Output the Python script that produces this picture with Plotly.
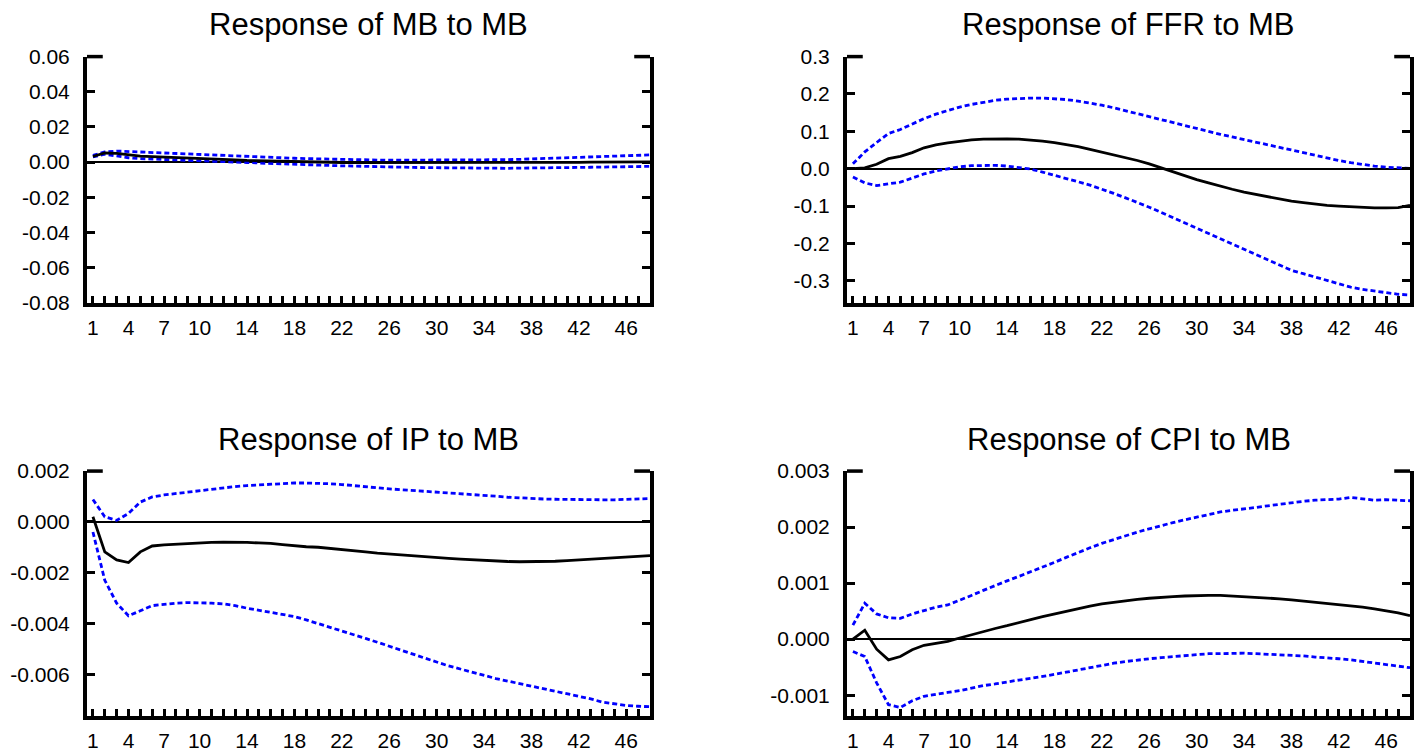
import plotly.graph_objects as go

periods = list(range(1, 49))
x_tick_labels = ["1", "4", "7", "10", "14", "18", "22", "26", "30", "34", "38", "42", "46"]

titles = ["Response of MB to MB", "Response of FFR to MB", "Response of IP to MB", "Response of CPI to MB"]

mb_resp = [0.0032, 0.0052, 0.0050, 0.0040, 0.0034, 0.0031, 0.0029, 0.0027, 0.0025, 0.0022,
           0.0019, 0.0016, 0.0013, 0.0010, 0.0008, 0.0006, 0.0004, 0.0002, 0.0001, 0.0000,
           -0.0001, -0.0002, -0.0003, -0.0003, -0.0004, -0.0004, -0.0005, -0.0005, -0.0005, -0.0005,
           -0.0005, -0.0005, -0.0005, -0.0004, -0.0004, -0.0004, -0.0003, -0.0003, -0.0002, -0.0002,
           -0.0001, -0.0001, 0.0000, 0.0000, 0.0001, 0.0001, 0.0002, 0.0002]
mb_upper = [0.0038, 0.0058, 0.0063, 0.0060, 0.0057, 0.0054, 0.0052, 0.0049, 0.0047, 0.0044,
            0.0041, 0.0038, 0.0035, 0.0032, 0.0029, 0.0026, 0.0024, 0.0022, 0.0020, 0.0018,
            0.0016, 0.0015, 0.0014, 0.0013, 0.0012, 0.0011, 0.0011, 0.0010, 0.0010, 0.0010,
            0.0010, 0.0010, 0.0011, 0.0012, 0.0013, 0.0014, 0.0016, 0.0018, 0.0020, 0.0022,
            0.0024, 0.0026, 0.0029, 0.0031, 0.0034, 0.0036, 0.0039, 0.0041]
mb_lower = [0.0030, 0.0045, 0.0035, 0.0025, 0.0020, 0.0018, 0.0016, 0.0014, 0.0012, 0.0010,
            0.0007, 0.0004, 0.0001, -0.0002, -0.0005, -0.0008, -0.0010, -0.0012, -0.0015, -0.0017,
            -0.0019, -0.0021, -0.0023, -0.0025, -0.0026, -0.0028, -0.0029, -0.0030, -0.0031, -0.0032,
            -0.0033, -0.0034, -0.0035, -0.0035, -0.0035, -0.0035, -0.0034, -0.0034, -0.0033, -0.0032,
            -0.0031, -0.0030, -0.0029, -0.0028, -0.0027, -0.0026, -0.0025, -0.0024]

ffr_resp = [0.0, 0.002, 0.012, 0.027, 0.033, 0.043, 0.056, 0.064, 0.069, 0.074,
            0.077, 0.079, 0.080, 0.080, 0.079, 0.077, 0.074, 0.070, 0.065, 0.059,
            0.052, 0.045, 0.038, 0.030, 0.022, 0.013, 0.002, -0.008, -0.019, -0.029,
            -0.038, -0.047, -0.055, -0.0625, -0.069, -0.076, -0.082, -0.087, -0.091, -0.095,
            -0.098, -0.100, -0.102, -0.104, -0.105, -0.105, -0.104, -0.098]
ffr_upper = [0.013, 0.045, 0.070, 0.094, 0.105, 0.120, 0.134, 0.146, 0.156, 0.165,
             0.172, 0.178, 0.183, 0.186, 0.188, 0.189, 0.189, 0.188, 0.185, 0.181,
             0.176, 0.170, 0.163, 0.155, 0.146, 0.138, 0.131, 0.123, 0.115, 0.107,
             0.100, 0.092, 0.085, 0.078, 0.070, 0.063, 0.056, 0.049, 0.042, 0.035,
             0.028, 0.022, 0.016, 0.011, 0.007, 0.004, 0.002, 0.001]
ffr_lower = [-0.022, -0.038, -0.045, -0.040, -0.036, -0.025, -0.014, -0.006, 0.000, 0.005,
             0.008, 0.009, 0.009, 0.007, 0.004, -0.001, -0.009, -0.017, -0.026, -0.035,
             -0.044, -0.054, -0.066, -0.078, -0.090, -0.103, -0.117, -0.131, -0.146, -0.160,
             -0.174, -0.187, -0.200, -0.214, -0.229, -0.243, -0.258, -0.272, -0.281, -0.290,
             -0.300, -0.310, -0.317, -0.323, -0.328, -0.333, -0.336, -0.338]

ip_resp = [0.0002, -0.00118, -0.0015, -0.0016, -0.00118, -0.00095, -0.00091, -0.00088, -0.00085, -0.00082,
           -0.00081, -0.0008, -0.0008, -0.00081, -0.00083, -0.00085, -0.0009, -0.00095, -0.00098, -0.001,
           -0.00104, -0.00108, -0.00113, -0.00118, -0.00123, -0.00127, -0.0013, -0.00134, -0.00137, -0.0014,
           -0.00144, -0.00147, -0.0015, -0.00153, -0.00155, -0.00156, -0.00157, -0.00157, -0.00157, -0.00155,
           -0.00153, -0.0015, -0.00148, -0.00146, -0.00143, -0.0014, -0.00137, -0.00133]
ip_upper = [0.00088, 0.0002, 0.00006, 0.00033, 0.00078, 0.00098, 0.00106, 0.00112, 0.00118, 0.00124,
            0.00129, 0.00134, 0.00139, 0.00143, 0.00146, 0.00149, 0.00152, 0.00153, 0.00153, 0.00152,
            0.0015, 0.00147, 0.00142, 0.00138, 0.00134, 0.0013, 0.00127, 0.00124, 0.00121, 0.00118,
            0.00115, 0.00111, 0.00108, 0.00105, 0.00101, 0.00097, 0.00094, 0.00092, 0.0009, 0.00089,
            0.00088, 0.00087, 0.00087, 0.00087, 0.00087, 0.00088, 0.0009, 0.00092]
ip_lower = [-0.0004, -0.0023, -0.0032, -0.0037, -0.0035, -0.0033, -0.00325, -0.0032, -0.00318, -0.00318,
            -0.0032, -0.00323, -0.0033, -0.0034, -0.00348, -0.00356, -0.00364, -0.00373, -0.00386, -0.004,
            -0.00415, -0.0043, -0.00444, -0.00459, -0.00474, -0.0049, -0.00505, -0.0052, -0.00536, -0.00552,
            -0.00567, -0.0058, -0.00594, -0.00607, -0.00617, -0.00627, -0.00637, -0.00647, -0.00657, -0.00667,
            -0.00677, -0.00686, -0.00697, -0.0071, -0.00717, -0.00723, -0.00726, -0.00728]

cpi_resp = [0.0, 0.00016, -0.00018, -0.00037, -0.00031, -0.00019, -0.00011, -0.00008, -0.00004, 0.00002,
            0.00008, 0.00013, 0.00019, 0.00024, 0.0003, 0.00035, 0.0004, 0.00045, 0.0005, 0.00055,
            0.00059, 0.00063, 0.00066, 0.00069, 0.00071, 0.00073, 0.00075, 0.00076, 0.00077, 0.00078,
            0.00078, 0.00078, 0.00077, 0.00076, 0.00075, 0.00074, 0.00072, 0.0007, 0.00068, 0.00066,
            0.00064, 0.00062, 0.0006, 0.00057, 0.00054, 0.00051, 0.00047, 0.00042]
cpi_upper = [0.00025, 0.00064, 0.00045, 0.00038, 0.00037, 0.00045, 0.00051, 0.00057, 0.00061, 0.00069,
             0.00078, 0.00087, 0.00096, 0.00104, 0.00112, 0.0012, 0.00128, 0.00137, 0.00146, 0.00155,
             0.00163, 0.00171, 0.00178, 0.00185, 0.00191, 0.00197, 0.00203, 0.00208, 0.00213, 0.00218,
             0.00223, 0.00227, 0.0023, 0.00232, 0.00235, 0.00238, 0.00241, 0.00243, 0.00246, 0.00248,
             0.00249, 0.0025, 0.00253, 0.00251, 0.00248, 0.00249, 0.00248, 0.00247]
cpi_lower = [-0.00022, -0.00031, -0.00078, -0.00117, -0.00122, -0.0011, -0.00102, -0.00098, -0.00095, -0.00092,
             -0.00087, -0.00083, -0.0008, -0.00076, -0.00073, -0.0007, -0.00067, -0.00063, -0.00059, -0.00055,
             -0.0005, -0.00046, -0.00043, -0.0004, -0.00037, -0.00035, -0.00033, -0.00031, -0.00029, -0.00027,
             -0.00026, -0.00026, -0.00025, -0.00025, -0.00026, -0.00027, -0.00027, -0.00028, -0.0003, -0.00032,
             -0.00033, -0.00035, -0.00037, -0.0004, -0.00042, -0.00045, -0.00048, -0.00051]

mb_yticks = [0.06, 0.04, 0.02, 0.0, -0.02, -0.04, -0.06, -0.08]
mb_ylabels = ["0.06", "0.04", "0.02", "0.00", "-0.02", "-0.04", "-0.06", "-0.08"]
ffr_yticks = [0.3, 0.2, 0.1, 0.0, -0.1, -0.2, -0.3]
ffr_ylabels = ["0.3", "0.2", "0.1", "0.0", "-0.1", "-0.2", "-0.3"]
ip_yticks = [0.002, 0.0, -0.002, -0.004, -0.006]
ip_ylabels = ["0.002", "0.000", "-0.002", "-0.004", "-0.006"]
cpi_yticks = [0.003, 0.002, 0.001, 0.0, -0.001]
cpi_ylabels = ["0.003", "0.002", "0.001", "0.000", "-0.001"]

panels = [
    (mb_resp, mb_upper, mb_lower, mb_yticks, mb_ylabels, [-0.08, 0.06]),
    (ffr_resp, ffr_upper, ffr_lower, ffr_yticks, ffr_ylabels, [-0.359, 0.3]),
    (ip_resp, ip_upper, ip_lower, ip_yticks, ip_ylabels, [-0.00764, 0.002]),
    (cpi_resp, cpi_upper, cpi_lower, cpi_yticks, cpi_ylabels, [-0.00137, 0.003]),
]

W, H = 1418, 755
xdoms = [[87 / W, 650 / W], [847 / W, 1410 / W]]
# vertical placements (pixels from top of the figure)
ydoms = [[1 - 300 / H, 1 - 46 / H], [1 - 726 / H, 1 - 473.5 / H]]
title_y = [1 - 13 / H, 1 - 440.5 / H]

FONT = "Liberation Sans, Arial, sans-serif"
BLUE = "#0000FF"

fig = go.Figure()
layout = dict(
    width=W, height=H,
    margin=dict(l=0, r=0, t=0, b=0),
    paper_bgcolor="white", plot_bgcolor="white",
    showlegend=False,
    font=dict(family=FONT, size=21, color="black"),
    annotations=[], shapes=[],
)

x_ticktext = [str(p) if str(p) in x_tick_labels else "" for p in periods]

for i, (resp, up, lo, yt, yl, yr) in enumerate(panels):
    row, col = divmod(i, 2)
    sfx = "" if i == 0 else str(i + 1)
    xa, ya = "x" + sfx, "y" + sfx
    for series, color, dash, w in [(up, BLUE, "5px,3px", 2.8), (lo, BLUE, "5px,3px", 2.8), (resp, "black", "solid", 2.8)]:
        fig.add_trace(go.Scatter(x=periods, y=series, mode="lines", xaxis=xa, yaxis=ya,
                                 line=dict(color=color, width=w, dash=dash), hoverinfo="skip"))
    layout["xaxis" + sfx] = dict(
        domain=xdoms[col], anchor=ya, range=[0.5, 48.0],
        showgrid=False, zeroline=False, showline=True, linecolor="black", linewidth=4,
        ticks="inside", ticklen=7, tickwidth=2.5, tickcolor="black",
        tickmode="array", tickvals=periods, ticktext=x_ticktext,
        ticklabelstandoff=3, tickfont=dict(family=FONT, size=21, color="black"),
    )
    layout["yaxis" + sfx] = dict(
        domain=ydoms[row], anchor=xa, range=yr,
        showgrid=False, zeroline=True, zerolinecolor="black", zerolinewidth=2,
        showline=True, linecolor="black", linewidth=4, mirror="ticks",
        ticks="inside", ticklen=8, tickwidth=3, tickcolor="black",
        tickmode="array", tickvals=yt, ticktext=yl,
        ticklabelstandoff=9, tickfont=dict(family=FONT, size=21, color="black"),
    )
    layout["annotations"].append(dict(
        text=titles[i], xref=xa + " domain", x=0.5, yref="paper", y=title_y[row],
        xanchor="center", yanchor="middle", showarrow=False,
        font=dict(family=FONT, size=31, color="black"),
    ))
    for x0, x1 in [(0, 0.028), (0.972, 1)]:
        layout["shapes"].append(dict(
            type="line", xref=xa + " domain", yref=ya + " domain",
            x0=x0, x1=x1, y0=1, y1=1, line=dict(color="black", width=3.5),
        ))

fig.update_layout(**layout)
fig.write_html("out.html")
